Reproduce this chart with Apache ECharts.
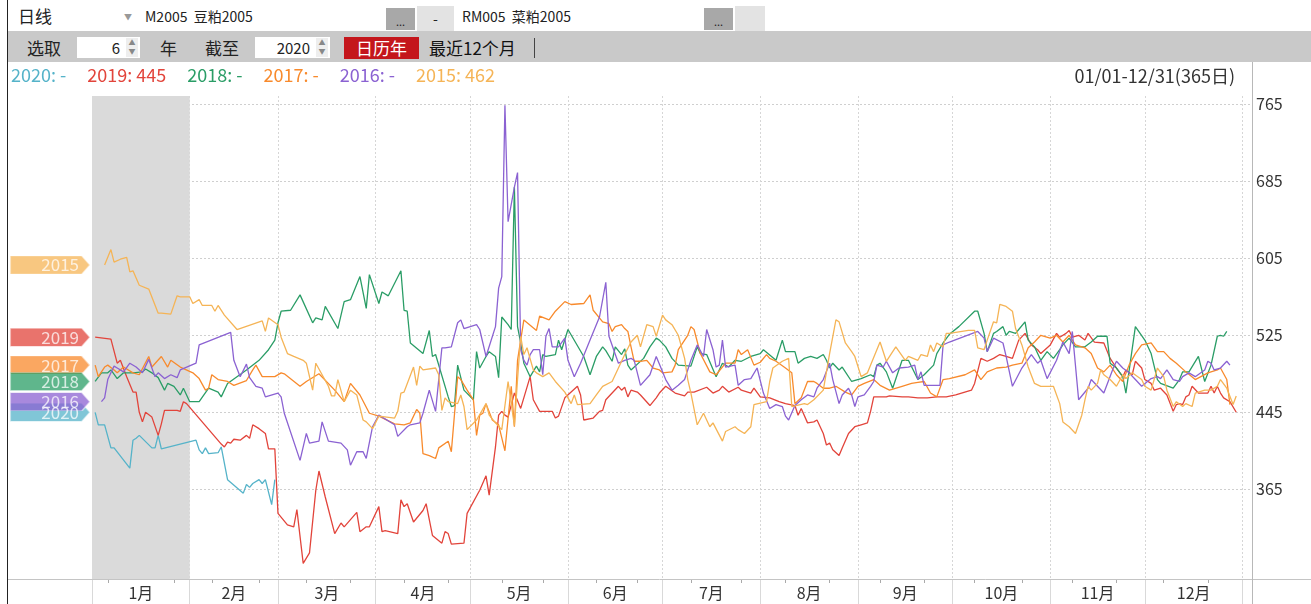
<!DOCTYPE html>
<html>
<head>
<meta charset="utf-8">
<script src="https://cdn.jsdelivr.net/npm/echarts@6/dist/echarts.min.js"></script>
<style>
  html, body { margin: 0; padding: 0; background: #fff; }
  body { width: 1311px; height: 604px; position: relative; overflow: hidden;
         font-family: "Noto Sans CJK SC", "Noto Sans", sans-serif; color: #222; }
  #chart { position: absolute; left: 0; top: 0; width: 1311px; height: 604px; }
  .tb { position: absolute; white-space: nowrap; }
  .row1 { left: 8px; top: 0; width: 1303px; height: 31px; background: #fff; }
  .row2 { left: 8px; top: 31px; width: 1303px; height: 31px; background: #c9c9c9; }
  .btn { background: #a8a8a8; font-size: 11px; text-align: center; line-height: 26px; }
  .spin { background: #fff; height: 21px; top: 37px; font-size: 15px; line-height: 21px; }
  .arr { position: absolute; right: 2px; top: 1px; width: 12px; height: 19px; background: #eee;
         font-size: 7px; line-height: 9px; color: #888; text-align: center; }
  .edge { left: 7px; top: 0; width: 1px; height: 604px; background: #222; }
</style>
</head>
<body>
<div id="chart"></div>

<div class="tb row1"></div>
<div class="tb" style="left:18px;top:3px;font-size:17px;">日线</div>
<div class="tb" style="left:124px;top:11px;font-size:8px;color:#999;">▼</div>
<div class="tb" style="left:145px;top:6px;font-size:14px;">M2005&nbsp;&nbsp;豆粕2005</div>
<div class="tb btn" style="left:386px;top:8px;width:29px;height:22px;">...</div>
<div class="tb" style="left:417px;top:6px;width:37px;height:25px;background:#e3e3e3;text-align:center;font-size:14px;line-height:24px;">-</div>
<div class="tb" style="left:462px;top:6px;font-size:14px;">RM005&nbsp;&nbsp;菜粕2005</div>
<div class="tb btn" style="left:704px;top:8px;width:29px;height:22px;">...</div>
<div class="tb" style="left:735px;top:6px;width:30px;height:25px;background:#e3e3e3;"></div>

<div class="tb row2"></div>
<div class="tb" style="left:27px;top:35px;font-size:17px;">选取</div>
<div class="tb spin" style="left:77px;width:63px;"><span style="position:absolute;right:20px;">6</span><div class="arr">▲<br>▼</div></div>
<div class="tb" style="left:160px;top:35px;font-size:17px;">年</div>
<div class="tb" style="left:205px;top:35px;font-size:17px;">截至</div>
<div class="tb spin" style="left:255px;width:75px;"><span style="position:absolute;right:20px;">2020</span><div class="arr">▲<br>▼</div></div>
<div class="tb" style="left:344px;top:37px;width:75px;height:22px;background:#c4161c;color:#fff;font-size:17px;line-height:21px;text-align:center;">日历年</div>
<div class="tb" style="left:429px;top:35px;font-size:17px;color:#111;">最近12个月</div>
<div class="tb" style="left:534px;top:38px;width:1px;height:20px;background:#444;"></div>
<div class="tb edge"></div>

<script>
// 月份边界（日序，从1月1日起算）与标签
const monthBounds = [0, 31, 59, 90, 120, 151, 181, 212, 243, 273, 304, 334, 365];
const monthNames = ['1月', '2月', '3月', '4月', '5月', '6月', '7月', '8月', '9月', '10月', '11月', '12月'];
const minorTicks = [5, 26, 38, 53, 68, 82, 99, 113, 130, 143, 160, 173, 190, 206, 220, 234, 250, 264, 280, 295, 311, 325, 340, 354];
const yTicks = [365, 445, 525, 605, 685, 765];
const years = ['2020', '2019', '2018', '2017', '2016', '2015'];
const cursorDay = 363;

// 各年价差 [日序, 数值]
const d2020 = [[1,445],[2,432],[4,432],[6,408],[7,408],[12,387],[13,416],[14,418],[15,421],[19,408],[20,408],[21,421],[22,407],[33,416],[34,406],[35,402],[36,408],[37,402],[40,403],[41,409],[43,375],[48,361],[49,370],[50,367],[51,371],[53,375],[54,371],[55,375],[57,349],[58,375]];

const d2019 = [[1,523],[6,521],[8,496],[9,499],[11,482],[13,466],[14,466],[15,445],[16,435],[17,445],[19,440],[21,421],[22,433],[23,447],[27,447],[28,446],[29,456],[30,454],[41,412],[42,409],[43,414],[44,413],[45,417],[47,416],[49,421],[50,418],[51,432],[53,428],[55,423],[56,407],[58,407],[59,340],[62,328],[64,326],[65,344],[67,288],[69,299],[71,364],[72,384],[74,357],[77,319],[79,330],[80,326],[84,341],[85,321],[87,326],[88,326],[91,347],[92,321],[93,322],[97,319],[98,354],[99,347],[100,350],[102,331],[105,343],[106,350],[108,317],[111,309],[112,321],[113,319],[114,308],[118,309],[119,340],[123,364],[125,379],[126,359],[128,409],[129,442],[130,446],[131,442],[132,440],[134,465],[136,449],[139,482],[140,458],[142,446],[146,446],[147,439],[148,441],[150,460],[154,472],[155,463],[156,437],[159,439],[161,446],[162,447],[163,458],[167,472],[168,468],[169,471],[170,461],[171,468],[173,466],[174,463],[177,452],[179,460],[180,465],[182,472],[185,465],[188,462],[189,466],[191,466],[195,471],[197,465],[199,468],[200,472],[202,466],[205,471],[206,468],[209,465],[210,470],[212,461],[215,460],[218,456],[220,454],[223,452],[224,442],[225,449],[227,434],[229,435],[230,437],[232,423],[233,411],[234,413],[235,406],[237,400],[238,408],[240,423],[242,430],[244,432],[246,434],[247,446],[248,461],[252,461],[253,462],[257,461],[259,461],[262,460],[265,460],[268,461],[271,461],[274,463],[279,468],[280,475],[282,501],[284,498],[286,501],[288,505],[290,503],[292,501],[294,520],[296,527],[298,515],[300,510],[301,506],[304,515],[306,527],[307,523],[309,527],[310,530],[311,523],[313,525],[315,520],[316,527],[318,518],[321,517],[323,501],[325,491],[327,482],[328,489],[330,484],[331,498],[333,491],[334,479],[336,475],[337,468],[339,470],[341,463],[343,446],[344,453],[345,454],[346,453],[347,461],[348,463],[349,472],[351,465],[354,465],[355,472],[356,465],[357,472],[358,465],[359,460],[361,456],[363,445]];

const d2018 = [[1,477],[3,486],[5,486],[6,489],[8,480],[10,486],[13,486],[16,487],[17,490],[19,486],[21,481],[23,468],[24,475],[26,472],[28,463],[29,470],[30,463],[31,456],[34,456],[37,470],[40,466],[41,461],[43,475],[49,489],[53,499],[56,510],[58,520],[59,538],[60,550],[63,551],[66,567],[70,538],[71,543],[73,541],[74,555],[78,532],[80,560],[82,562],[85,586],[87,553],[88,588],[91,558],[92,570],[94,566],[98,592],[99,551],[100,550],[101,517],[105,506],[107,530],[108,503],[109,505],[113,461],[114,451],[115,452],[116,494],[118,468],[121,458],[122,508],[123,491],[125,503],[126,508],[128,503],[129,481],[130,544],[132,536],[133,531],[134,679],[135,534],[136,517],[137,496],[139,482],[141,493],[142,487],[143,505],[144,503],[147,505],[148,520],[149,510],[151,531],[156,503],[158,484],[160,503],[162,513],[163,509],[165,498],[166,513],[168,505],[169,511],[170,494],[171,489],[175,501],[177,513],[179,522],[180,520],[182,513],[184,501],[186,494],[190,493],[192,513],[193,506],[195,505],[198,482],[200,496],[202,492],[204,499],[206,498],[209,503],[212,506],[213,510],[217,499],[219,520],[220,508],[223,508],[224,496],[226,501],[228,503],[230,501],[232,505],[233,499],[234,491],[235,496],[237,489],[238,492],[241,477],[244,480],[247,484],[248,482],[249,494],[250,496],[252,487],[254,470],[257,499],[259,499],[262,479],[264,484],[267,494],[268,506],[270,517],[272,526],[275,534],[280,550],[281,550],[283,527],[284,508],[286,527],[287,529],[289,534],[290,525],[291,529],[293,527],[294,531],[296,539],[297,520],[299,513],[301,499],[303,508],[305,501],[307,510],[308,515],[310,522],[312,513],[315,513],[317,518],[319,524],[322,524],[323,496],[325,491],[327,482],[328,465],[331,534],[334,520],[336,506],[338,479],[339,475],[343,470],[345,479],[346,487],[348,487],[351,503],[353,477],[355,494],[357,524],[358,525],[359,524],[360,529]];

const d2017 = [[1,494],[2,482],[4,492],[5,494],[7,489],[8,486],[10,492],[13,486],[15,484],[18,503],[19,492],[22,503],[24,492],[25,499],[28,492],[32,486],[34,480],[36,468],[37,470],[38,484],[40,479],[43,477],[45,473],[49,478],[51,489],[52,494],[54,482],[58,482],[60,486],[61,485],[66,472],[68,477],[72,485],[77,468],[80,456],[82,475],[85,463],[88,444],[91,441],[96,433],[99,432],[101,434],[103,448],[104,444],[105,402],[107,400],[109,397],[110,408],[113,415],[114,404],[116,482],[117,479],[119,468],[121,458],[122,421],[123,442],[124,444],[125,454],[127,437],[129,432],[131,405],[133,472],[134,430],[135,499],[137,541],[141,530],[142,545],[145,541],[147,550],[150,560],[152,557],[156,558],[158,567],[159,551],[162,539],[164,537],[165,529],[166,534],[168,536],[169,532],[170,529],[171,513],[172,498],[174,498],[176,499],[178,491],[180,489],[181,486],[184,487],[185,494],[186,510],[189,525],[190,534],[191,531],[193,506],[196,487],[198,484],[201,496],[204,496],[205,510],[206,505],[208,510],[210,494],[212,497],[214,505],[215,501],[217,498],[220,491],[222,486],[223,454],[225,460],[227,477],[229,477],[230,475],[232,470],[234,470],[236,472],[239,466],[241,463],[243,472],[245,475],[248,479],[250,473],[253,468],[257,472],[260,475],[262,476],[264,477],[266,465],[268,461],[270,479],[272,480],[277,484],[280,489],[282,479],[284,487],[287,491],[290,492],[292,494],[295,496],[297,512],[299,518],[301,525],[304,522],[306,525],[308,518],[310,525],[312,515],[315,512],[317,506],[319,491],[321,487],[323,494],[325,484],[327,477],[329,494],[331,506],[333,515],[336,517],[338,508],[340,508],[342,501],[344,496],[347,487],[350,479],[354,486],[357,489],[358,491],[360,479],[361,453]];

const d2016 = [[3,456],[4,460],[5,479],[7,493],[8,491],[10,487],[12,496],[14,492],[16,486],[18,500],[20,482],[21,486],[23,480],[25,484],[27,481],[28,489],[33,496],[34,515],[44,528],[45,499],[47,482],[49,495],[50,481],[52,472],[54,470],[55,461],[59,465],[60,461],[61,444],[66,395],[68,423],[69,413],[72,415],[73,435],[75,415],[79,413],[81,406],[82,390],[84,404],[86,404],[87,397],[89,430],[91,442],[96,432],[97,420],[100,430],[101,432],[104,434],[105,444],[107,468],[109,446],[111,512],[112,512],[114,513],[116,538],[117,541],[118,532],[122,536],[123,531],[125,503],[128,534],[129,574],[130,586],[131,764],[132,643],[134,679],[135,694],[136,510],[137,499],[138,494],[139,505],[140,510],[142,510],[143,484],[144,524],[145,532],[146,513],[148,513],[150,522],[151,499],[153,482],[155,496],[158,520],[161,544],[163,580],[164,524],[167,496],[169,499],[171,501],[172,499],[174,473],[177,484],[179,503],[181,487],[182,479],[184,468],[186,473],[188,479],[190,499],[192,515],[194,503],[195,531],[197,510],[198,492],[199,494],[200,520],[201,492],[204,494],[205,473],[207,479],[209,480],[211,491],[213,465],[215,449],[217,453],[219,451],[220,441],[221,437],[223,452],[225,458],[227,463],[229,461],[230,470],[232,479],[234,496],[235,479],[237,454],[238,463],[240,470],[241,463],[242,451],[243,461],[245,463],[247,472],[248,477],[249,494],[251,492],[252,498],[254,486],[256,491],[259,492],[261,494],[262,479],[263,487],[264,473],[266,473],[269,473],[270,515],[272,518],[281,529],[283,522],[284,508],[286,522],[289,517],[290,503],[292,472],[295,491],[298,505],[300,496],[301,499],[303,480],[306,499],[308,518],[310,506],[311,529],[313,458],[316,470],[317,479],[319,472],[321,465],[324,491],[325,498],[327,491],[329,486],[331,479],[333,472],[336,480],[338,482],[339,480],[341,489],[343,479],[345,477],[346,482],[348,486],[350,482],[353,489],[354,498],[355,496],[356,489],[358,491],[360,498],[361,494]];

const d2015 = [[4,598],[6,614],[7,601],[9,604],[11,606],[12,591],[13,592],[15,577],[18,573],[21,548],[22,548],[25,547],[27,566],[28,565],[31,565],[32,558],[34,562],[35,556],[38,556],[39,550],[40,556],[42,546],[46,531],[54,540],[55,529],[56,543],[59,536],[60,523],[62,506],[64,503],[67,499],[68,496],[70,468],[71,496],[75,472],[76,462],[77,462],[78,479],[80,456],[82,468],[84,463],[86,437],[87,435],[89,428],[91,441],[96,439],[97,446],[98,465],[99,466],[102,492],[103,473],[104,493],[105,489],[109,491],[110,484],[111,447],[112,460],[113,456],[116,454],[117,463],[118,451],[119,427],[122,437],[125,454],[126,442],[128,434],[130,427],[132,477],[134,431],[135,479],[136,524],[137,505],[138,512],[140,489],[141,486],[143,482],[145,486],[147,477],[150,466],[152,454],[153,463],[154,453],[158,454],[160,463],[162,472],[165,477],[167,491],[169,505],[171,518],[173,525],[174,513],[176,536],[178,534],[179,524],[181,546],[182,541],[184,536],[186,525],[188,501],[189,479],[190,465],[192,432],[194,444],[196,430],[197,434],[200,415],[201,425],[204,430],[205,427],[207,423],[209,430],[210,453],[214,456],[215,477],[216,491],[219,498],[221,501],[222,451],[226,454],[227,453],[229,458],[232,468],[234,506],[236,541],[237,539],[239,517],[241,508],[242,503],[244,482],[246,486],[250,518],[252,498],[255,513],[258,499],[259,503],[262,499],[263,505],[265,503],[266,515],[267,508],[268,517],[270,513],[271,527],[272,527],[278,530],[280,530],[281,512],[283,510],[284,520],[286,539],[287,538],[288,557],[290,555],[292,550],[293,532],[295,515],[297,492],[299,475],[301,472],[305,472],[307,454],[308,435],[310,430],[312,423],[314,442],[315,458],[316,472],[317,468],[319,475],[320,489],[321,484],[323,479],[325,472],[327,484],[328,480],[330,486],[333,479],[334,472],[336,468],[338,491],[340,482],[341,468],[343,451],[344,456],[346,451],[347,454],[349,451],[350,465],[353,468],[355,468],[357,472],[358,479],[360,470],[362,453],[363,462]];

const dataByYear = { '2020': d2020, '2019': d2019, '2018': d2018, '2017': d2017, '2016': d2016, '2015': d2015 };
const colors = { '2020': '#55b3c9', '2019': '#e2443b', '2018': '#2a9d66', '2017': '#f88a2c', '2016': '#8b62d2', '2015': '#f5b456' };

const yMin = 271.8;
const yMax = 773.6;
const monthMids = monthNames.map((m, i) => (monthBounds[i] + monthBounds[i + 1]) / 2);

const valueAt = (arr, day) => {
  const p = arr.find(d => d[0] === day);
  return p ? p[1] : '-';
};

const chart = echarts.init(document.getElementById('chart'));

const lineSeries = years.map(y => ({
  name: y,
  type: 'line',
  xAxisIndex: 0,
  yAxisIndex: 0,
  data: dataByYear[y],
  showSymbol: false,
  symbol: 'none',
  lineStyle: { width: 1.3, color: colors[y] },
  itemStyle: { color: colors[y] },
  z: 3
}));

// 左侧年份标签（按首日数值定位），绘制顺序决定遮挡
const tagOrder = ['2015', '2019', '2017', '2018', '2020', '2016'];
const tagData = tagOrder.map(y => ({
  value: [0.5, dataByYear[y][0][1]],
  name: y,
  itemStyle: { color: colors[y], opacity: 0.75, borderColor: 'rgba(255,255,255,0.7)', borderWidth: 1 }
}));

chart.setOption({
  animation: false,
  textStyle: { fontFamily: '"Noto Sans CJK SC", "Noto Sans", sans-serif' },
  title: {
    text: '01/01-12/31(365日)',
    right: 71,
    top: 62,
    textStyle: { fontSize: 18, fontWeight: 'normal', color: '#333' }
  },
  legend: {
    left: 5,
    top: 66,
    padding: 0,
    itemWidth: 0,
    itemHeight: 0,
    itemGap: 15,
    selectedMode: false,
    formatter: name => name + ': ' + valueAt(dataByYear[name], cursorDay),
    data: years.map(y => ({ name: y, textStyle: { color: colors[y], fontSize: 18 } }))
  },
  grid: [
    { left: 92, right: 59, top: 96, bottom: 25 },
    { left: 10, width: 80, top: 96, bottom: 25 }
  ],
  xAxis: [
    {
      type: 'value',
      gridIndex: 0,
      min: 0,
      max: 368,
      axisLine: { show: false },
      axisTick: {
        customValues: monthBounds,
        length: 25,
        lineStyle: { color: '#d9d9d9' }
      },
      axisLabel: {
        customValues: monthMids,
        formatter: v => monthNames[monthMids.indexOf(v)],
        color: '#333',
        fontSize: 16,
        margin: 6
      },
      splitLine: { show: true, lineStyle: { color: '#d6d6d6', type: [2, 2] } }
    },
    { type: 'value', gridIndex: 1, min: 0, max: 1, show: false },
    {
      type: 'value',
      gridIndex: 0,
      position: 'bottom',
      min: 0,
      max: 368,
      axisLine: { show: false },
      axisTick: { customValues: minorTicks, length: 4, lineStyle: { color: '#aaa' } },
      axisLabel: { show: false },
      splitLine: { show: false }
    }
  ],
  yAxis: [
    {
      type: 'value',
      gridIndex: 0,
      position: 'right',
      min: yMin,
      max: yMax,
      axisLine: { show: false },
      axisTick: { customValues: yTicks, length: 4, lineStyle: { color: '#888' } },
      axisLabel: { customValues: yTicks, color: '#333', fontSize: 16, margin: 4 },
      splitLine: { show: true, lineStyle: { color: '#cfcfcf', type: [2, 2] } }
    },
    { type: 'value', gridIndex: 1, min: yMin, max: yMax, show: false }
  ],
  graphic: [
    { type: 'line', shape: { x1: 8, y1: 579.5, x2: 1311, y2: 579.5 }, style: { stroke: '#c4c4c4', lineWidth: 1 }, z: 10 },
    { type: 'line', shape: { x1: 1252.5, y1: 62, x2: 1252.5, y2: 604 }, style: { stroke: '#b8b8b8', lineWidth: 1 }, z: 10 }
  ],
  series: [
    {
      name: 'shade',
      type: 'line',
      data: [],
      z: 1,
      markArea: {
        silent: true,
        itemStyle: { color: '#dadada' },
        data: [[{ xAxis: monthBounds[0] }, { xAxis: monthBounds[1] }]]
      }
    },
    ...lineSeries,
    {
      name: 'tags',
      type: 'scatter',
      xAxisIndex: 1,
      yAxisIndex: 1,
      symbol: 'path://M0,0L72,0L80,9L72,18L0,18Z',
      symbolSize: [80, 18],
      symbolKeepAspect: false,
      data: tagData,
      label: {
        show: true,
        formatter: p => p.name,
        position: 'insideRight',
        distance: 12,
        color: '#fff',
        fontSize: 17
      },
      z: 5
    }
  ]
});
</script>
</body>
</html>
